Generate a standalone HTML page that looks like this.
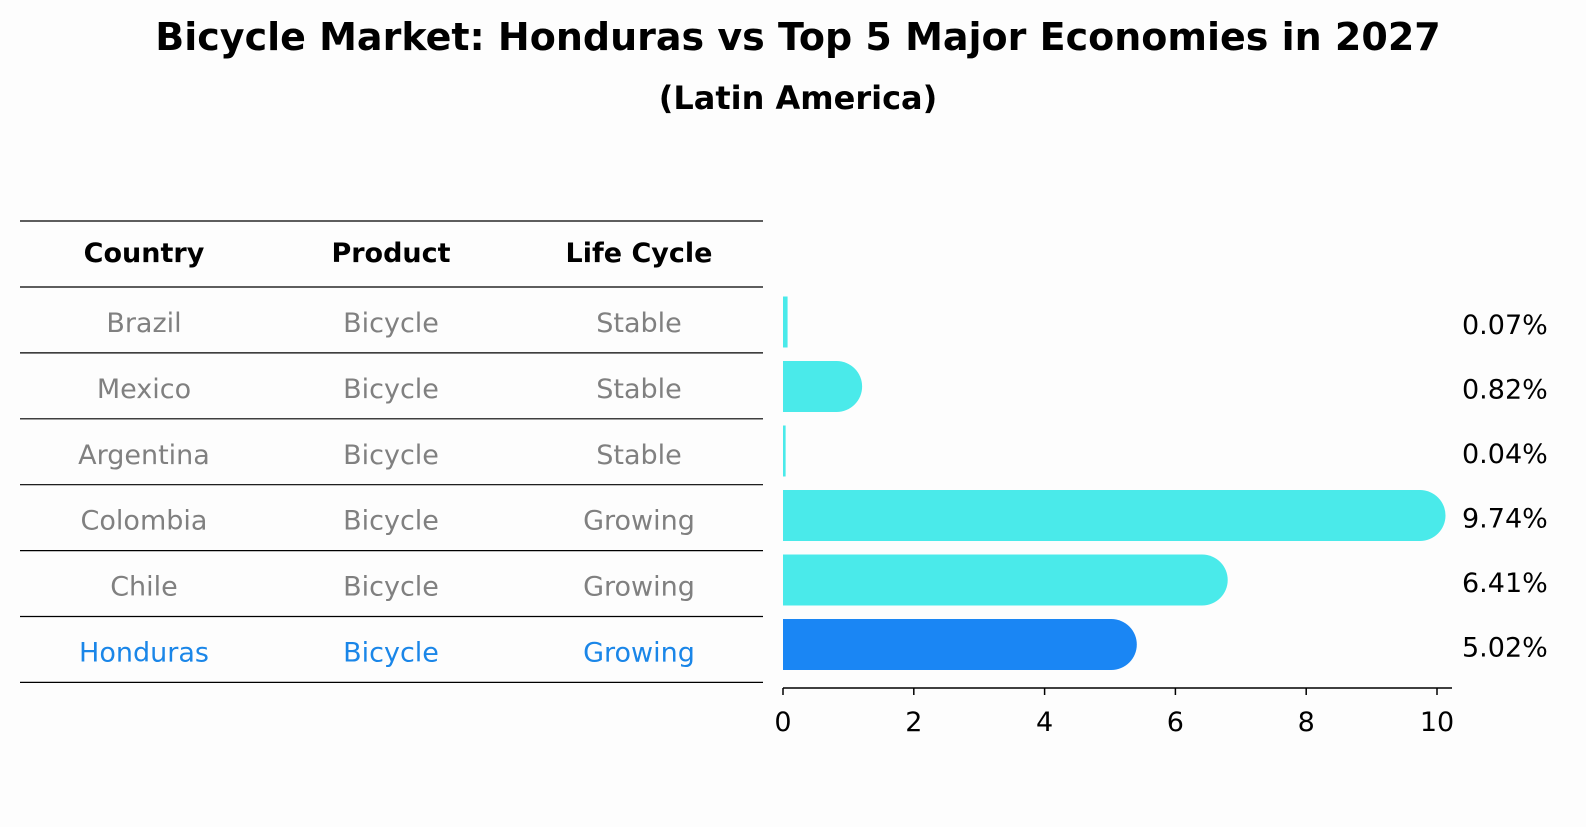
<!DOCTYPE html>
<html><head><meta charset="utf-8"><style>
body{margin:0;background:#fdfdfd;width:1586px;height:823px;overflow:hidden;font-family:"DejaVu Sans","Liberation Sans",sans-serif}
</style></head><body>
<svg width="1586" height="823" font-family="DejaVu Sans, Liberation Sans, sans-serif">
<text x="798" y="50" text-anchor="middle" font-size="38" font-weight="bold">Bicycle Market: Honduras vs Top 5 Major Economies in 2027</text>
<text x="798" y="109" text-anchor="middle" font-size="32" font-weight="bold">(Latin America)</text>
<g id="table"></g>
<g id="bars"></g>
</svg>
<script>
const countries=["Brazil","Mexico","Argentina","Colombia","Chile","Honduras"];
const products=["Bicycle","Bicycle","Bicycle","Bicycle","Bicycle","Bicycle"];
const lifeCycles=["Stable","Stable","Stable","Growing","Growing","Growing"];
const values=[0.07,0.82,0.04,9.74,6.41,5.02];
const valueLabels=["0.07%","0.82%","0.04%","9.74%","6.41%","5.02%"];
const xTicks=[0,2,4,6,8,10];
const NS="http://www.w3.org/2000/svg";
function mk(tag,attrs,parent){const e=document.createElementNS(NS,tag);for(const k in attrs)e.setAttribute(k,attrs[k]);parent.appendChild(e);return e;}
const tbl=document.getElementById('table');
const rowY=i=>287+i*65.9;
const colX=[144,391,639];
for(let i=0;i<=7;i++){const y=i===0?221:rowY(i-1);
const l=mk('line',{x1:20,x2:763,y1:y,y2:y,stroke:'#000','stroke-width':1.2},tbl);

}
["Country","Product","Life Cycle"].forEach((h,j)=>{const t=mk('text',{x:colX[j],y:262,'text-anchor':'middle','font-size':27,'font-weight':'bold'},tbl);t.textContent=h;

});
countries.forEach((c,i)=>{const col=i===5?'#1a86e8':'#808080';
[c,products[i],lifeCycles[i]].forEach((v,j)=>{const t=mk('text',{x:colX[j],y:rowY(i)+45,'text-anchor':'middle','font-size':27,fill:col},tbl);t.textContent=v;

});});
const g=document.getElementById('bars');
const x0=783,sc=65.4,xs=v=>x0+v*sc;
const yc=i=>322+i*64.5,h=51;
values.forEach((v,i)=>{const col=i===5?'#1a86f4':'#4aeaea';const y=yc(i);
const r=mk('rect',{x:x0,y:y-h/2,width:Math.max(v*sc,2),height:h,fill:col},g);


if(v>0.5){const c=mk('circle',{cx:xs(v),cy:y,r:h/2,fill:col},g);

}
const t=mk('text',{x:1462,y:y+12,'font-size':27},g);t.textContent=valueLabels[i];

});
const ax=mk('line',{x1:x0,x2:1452,y1:688,y2:688,stroke:'#000','stroke-width':1.5},g);


xTicks.forEach(v=>{const l=mk('line',{x1:xs(v),x2:xs(v),y1:688,y2:695,stroke:'#000','stroke-width':1.5},g);


const t=mk('text',{x:xs(v),y:731,'text-anchor':'middle','font-size':27},g);t.textContent=v;

});
</script>
</body></html>
